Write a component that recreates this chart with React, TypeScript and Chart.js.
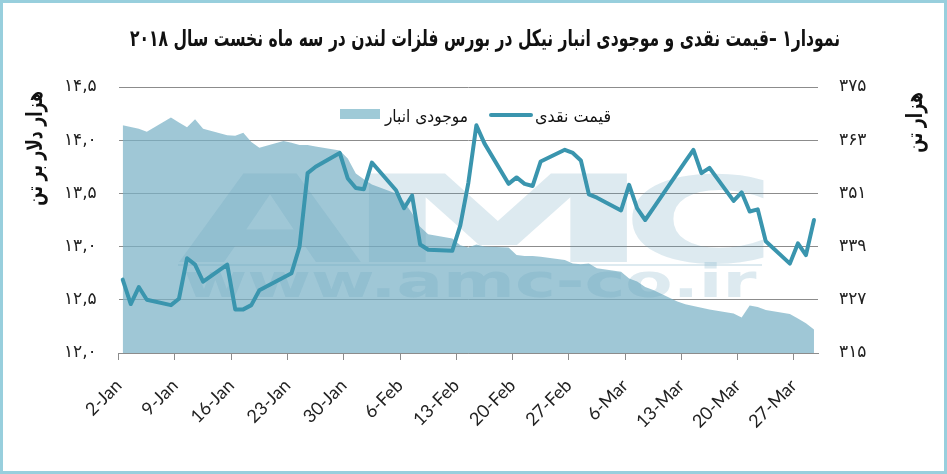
import React, { useEffect, useRef } from "react";
import { Chart, registerables } from "chart.js";

Chart.register(...registerables);

// ---- data (trading days, 2018) ----
const dates = [
  "01-02", "01-03", "01-04", "01-05", "01-08", "01-09", "01-10", "01-11", "01-12",
  "01-15", "01-16", "01-17", "01-18", "01-19", "01-22", "01-23", "01-24", "01-25", "01-26",
  "01-29", "01-30", "01-31", "02-01", "02-02", "02-05", "02-06", "02-07", "02-08", "02-09",
  "02-12", "02-13", "02-14", "02-15", "02-16", "02-19", "02-20", "02-21", "02-22", "02-23",
  "02-26", "02-27", "02-28", "03-01", "03-02", "03-05", "03-06", "03-07", "03-08", "03-09",
  "03-12", "03-13", "03-14", "03-15", "03-16", "03-19", "03-20", "03-21", "03-22", "03-23",
  "03-26", "03-27", "03-28", "03-29",
];

// cash price, thousand USD per tonne (left axis)
const price = [
  12.69, 12.46, 12.62, 12.5, 12.45, 12.51, 12.89, 12.83, 12.67,
  12.83, 12.41, 12.41, 12.45, 12.59, 12.71, 12.75, 13.0, 13.69, 13.75,
  13.88, 13.64, 13.55, 13.54, 13.79, 13.53, 13.36, 13.48, 13.02, 12.97,
  12.96, 13.2, 13.6, 14.14, 13.97, 13.59, 13.65, 13.59, 13.57, 13.8,
  13.91, 13.88, 13.81, 13.49, 13.46, 13.34, 13.58, 13.36, 13.25, 13.36,
  13.69, 13.8, 13.91, 13.69, 13.74, 13.43, 13.51, 13.33, 13.35, 13.05,
  12.84, 13.03, 12.92, 13.25,
];

// warehouse stock, thousand tonnes (right axis)
const stock = [
  366.4, 366.0, 365.6, 364.9, 368.1, 367.0, 365.9, 367.7, 365.6,
  364.1, 364.0, 364.7, 362.6, 361.3, 362.8, 362.4, 361.9, 361.9, 361.6,
  360.7, 358.9, 355.5, 354.2, 353.0, 351.0, 349.1, 346.5, 343.5, 341.8,
  340.8, 339.3, 338.8, 339.5, 339.0, 338.8, 337.1, 336.9, 336.9, 336.7,
  336.0, 335.2, 335.0, 335.2, 334.1, 333.3, 331.8, 331.1, 329.9, 329.2,
  326.6, 326.0, 325.6, 325.2, 324.8, 323.9, 323.0, 325.7, 325.4, 324.7,
  323.8, 322.8, 321.7, 320.3,
];

const weekLabels = [
  "2-Jan", "9-Jan", "16-Jan", "23-Jan", "30-Jan", "6-Feb", "13-Feb",
  "20-Feb", "27-Feb", "6-Mar", "13-Mar", "20-Mar", "27-Mar",
];
const priceTickLabels = ["۱۲,۰", "۱۲,۵", "۱۳,۰", "۱۳,۵", "۱۴,۰", "۱۴,۵"];
const stockTickLabels = ["۳۱۵", "۳۲۷", "۳۳۹", "۳۵۱", "۳۶۳", "۳۷۵"];

const TITLE = "نمودار۱ –قیمت نقدی و موجودی انبار نیکل در بورس فلزات لندن در سه ماه نخست سال ۲۰۱۸";
const PRICE_LABEL = "قیمت نقدی";
const STOCK_LABEL = "موجودی انبار";
const LEFT_AXIS_TITLE = "هزار دلار بر تن";
const RIGHT_AXIS_TITLE = "هزار تن";
const WATERMARK_LOGO = ["A", "M", "C"];
const WATERMARK_URL = "www.amc-co.ir";

// ---- style ----
const W = 947;
const H = 474;
const LINE_COLOR = "#3a95ae";
const AREA_COLOR = "rgba(122,178,198,0.72)";
const AREA_SWATCH = "#9fcad7";
const GRID = "#8c8c8c";
const FA_FONT = "'DejaVu Sans'";

function dayIndex(md: string): number {
  const [m, d] = md.split("-").map(Number);
  return Math.round((Date.UTC(2018, m - 1, d) - Date.UTC(2018, 0, 2)) / 86400000);
}

function fitText(
  ctx: CanvasRenderingContext2D,
  text: string,
  left: number,
  baseline: number,
  width: number,
  font: string,
  color: string
) {
  ctx.save();
  ctx.font = font;
  ctx.fillStyle = color;
  ctx.textAlign = "left";
  ctx.textBaseline = "alphabetic";
  const m = ctx.measureText(text);
  const inkW = m.actualBoundingBoxLeft + m.actualBoundingBoxRight;
  ctx.translate(left, baseline);
  ctx.scale(width / inkW, 1);
  ctx.fillText(text, m.actualBoundingBoxLeft, 0);
  ctx.restore();
}

function verticalText(
  ctx: CanvasRenderingContext2D,
  text: string,
  cx: number,
  cy: number,
  length: number,
  font: string,
  color: string
) {
  ctx.save();
  ctx.font = font;
  ctx.fillStyle = color;
  ctx.textAlign = "left";
  ctx.textBaseline = "middle";
  const m = ctx.measureText(text);
  const inkW = m.actualBoundingBoxLeft + m.actualBoundingBoxRight;
  ctx.translate(cx, cy);
  ctx.rotate(-Math.PI / 2);
  ctx.scale(length / inkW, 1);
  ctx.fillText(text, -inkW / 2 + m.actualBoundingBoxLeft, 0);
  ctx.restore();
}

function drawWatermark(ctx: CanvasRenderingContext2D) {
  ctx.save();
  const col = "rgba(100,160,185,0.22)";
  ctx.fillStyle = col;
  const boxes = [
    [178, 362],
    [368, 627],
    [632, 765],
  ];
  WATERMARK_LOGO.forEach((ch, i) => {
    const [x0, x1] = boxes[i];
    ctx.save();
    ctx.font = "bold 124px " + FA_FONT;
    ctx.textAlign = "left";
    ctx.textBaseline = "alphabetic";
    const m = ctx.measureText(ch);
    const inkW = m.actualBoundingBoxLeft + m.actualBoundingBoxRight;
    const inkH = m.actualBoundingBoxAscent;
    ctx.translate(x0, 262);
    ctx.scale((x1 - x0) / inkW, 90 / inkH);
    ctx.fillText(ch, m.actualBoundingBoxLeft, 0);
    ctx.restore();
  });
  ctx.fillRect(178, 264, 584, 2);
  fitText(ctx, WATERMARK_URL, 185, 297, 572, "bold 46px " + FA_FONT, col);
  ctx.restore();
}

const decorPlugin = {
  id: "decor",
  afterDatasetDraw(chart: any, args: any) {
    if (args.index === 0) drawWatermark(chart.ctx);
  },
  afterDraw(chart: any) {
    const ctx: CanvasRenderingContext2D = chart.ctx;
    // title
    fitText(ctx, TITLE, 130, 46, 709, "bold 23px " + FA_FONT, "#111");
    // axis titles
    verticalText(ctx, LEFT_AXIS_TITLE, 36, 148.5, 113, "bold 22px " + FA_FONT, "#111");
    verticalText(ctx, RIGHT_AXIS_TITLE, 916.5, 122.5, 59, "bold 22px " + FA_FONT, "#111");
    // legend
    ctx.save();
    ctx.fillStyle = AREA_SWATCH;
    ctx.fillRect(340, 109, 40, 10);
    ctx.strokeStyle = LINE_COLOR;
    ctx.lineWidth = 4;
    ctx.lineCap = "round";
    ctx.beginPath();
    ctx.moveTo(491, 115);
    ctx.lineTo(531, 115);
    ctx.stroke();
    ctx.restore();
    fitText(ctx, STOCK_LABEL, 384, 122, 83, "17px " + FA_FONT, "#111");
    fitText(ctx, PRICE_LABEL, 536, 122, 74, "17px " + FA_FONT, "#111");
  },
};

export default function App() {
  const canvasRef = useRef<HTMLCanvasElement | null>(null);

  useEffect(() => {
    const canvas = canvasRef.current;
    if (!canvas) return;
    const xs = dates.map(dayIndex);
    const chart = new Chart(canvas, {
      type: "line",
      data: {
        datasets: [
          {
            label: STOCK_LABEL,
            data: stock.map((v, i) => ({ x: xs[i], y: v })),
            yAxisID: "y1",
            fill: "start",
            backgroundColor: AREA_COLOR,
            borderWidth: 0,
            pointRadius: 0,
            tension: 0,
            order: 2,
          },
          {
            label: PRICE_LABEL,
            data: price.map((v, i) => ({ x: xs[i], y: v })),
            yAxisID: "y",
            fill: false,
            borderColor: LINE_COLOR,
            borderWidth: 4,
            borderJoinStyle: "round",
            borderCapStyle: "round",
            pointRadius: 0,
            tension: 0,
            order: 1,
          },
        ],
      } as any,
      options: {
        animation: false,
        responsive: false,
        devicePixelRatio: 1,
        layout: { padding: { top: 87, left: 0, right: 0, bottom: 0 } },
        plugins: {
          legend: { display: false },
          tooltip: { enabled: false },
          title: { display: false },
        },
        scales: {
          x: {
            type: "linear",
            min: -0.5,
            max: 86.5,
            afterBuildTicks: (s: any) => {
              s.ticks = weekLabels.map((_, i) => ({ value: i * 7 - 0.5 }));
            },
            afterFit: (s: any) => {
              s.height = H - 353;
            },
            ticks: {
              autoSkip: false,
              minRotation: 45,
              maxRotation: 45,
              padding: 15,
              color: "#222",
              font: { family: "Lato", size: 18 },
              callback: (_v: any, i: number) => weekLabels[i],
            },
            grid: { drawOnChartArea: false, drawTicks: true, tickLength: 7, color: GRID },
            border: { color: GRID, width: 1 },
          },
          y: {
            position: "left",
            min: 12,
            max: 14.5,
            afterFit: (s: any) => {
              s.width = 118.7;
            },
            ticks: {
              stepSize: 0.5,
              padding: 22,
              color: "#222",
              font: { family: "DejaVu Sans", size: 17 },
              callback: (_v: any, i: number) => priceTickLabels[i],
            },
            grid: { color: GRID, drawTicks: false, lineWidth: 1 },
            border: { display: false },
          },
          y1: {
            position: "right",
            min: 315,
            max: 375,
            afterFit: (s: any) => {
              s.width = W - 818;
            },
            ticks: {
              stepSize: 12,
              padding: 21,
              color: "#222",
              font: { family: "DejaVu Sans", size: 17 },
              callback: (_v: any, i: number) => stockTickLabels[i],
            },
            grid: { display: false, drawTicks: false },
            border: { display: false },
          },
        },
      } as any,
      plugins: [decorPlugin],
    });
    return () => chart.destroy();
  }, []);

  return (
    <div style={{ position: "absolute", left: 0, top: 0, width: W, height: H, background: "#fff" }}>
      <canvas ref={canvasRef} width={W} height={H} style={{ display: "block", width: W, height: H }} />
      <div
        style={{
          position: "absolute",
          left: 0,
          top: 0,
          width: W,
          height: H,
          boxSizing: "border-box",
          border: "3px solid #98cfdd",
          pointerEvents: "none",
        }}
      />
    </div>
  );
}
